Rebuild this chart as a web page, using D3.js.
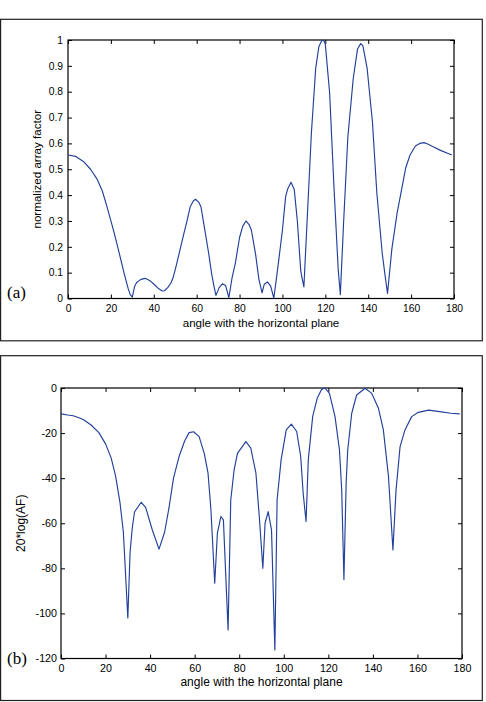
<!DOCTYPE html>
<html><head><meta charset="utf-8">
<script src="https://cdn.jsdelivr.net/npm/d3@7"></script>
<style>body{margin:0;background:#fff} svg{display:block}</style>
</head><body><svg id="c" width="486" height="702"></svg>
<script>
// ---- data ----
const anglesA = [0,3.5,7.5,10.5,13.5,16,18,20,21.5,24,26,28,29,30,31,32,34,36,38,40,42,44,45,46.5,48,49,50.5,52,53,54,55.5,57,58.5,59.5,61,62,63.5,65.5,67,68,69,70.5,72,73.5,75,76.5,78,80,81.5,83,84.5,85.5,87.5,89,90.5,91.5,93,94.5,96,98,100,101.5,102.5,104,105.5,107,108.5,109,110,111.5,113.5,115.5,117,118.5,119.5,120,122,124,126,127,128.5,130.5,133,135,136.5,137.5,139.5,142,144,146.5,148,149,151,153.5,155,157.5,159.5,162,164,166,168,170,174,177,179];
const afValues = [0.555,0.550,0.528,0.500,0.463,0.416,0.360,0.300,0.255,0.172,0.103,0.040,0.015,0.005,0.045,0.062,0.074,0.078,0.070,0.056,0.040,0.029,0.030,0.042,0.060,0.080,0.128,0.180,0.215,0.250,0.300,0.355,0.378,0.384,0.372,0.355,0.280,0.180,0.095,0.050,0.012,0.042,0.057,0.050,0.003,0.080,0.135,0.236,0.280,0.300,0.285,0.265,0.170,0.075,0.022,0.055,0.064,0.048,0.001,0.130,0.265,0.395,0.425,0.450,0.422,0.295,0.110,0.085,0.045,0.300,0.640,0.890,0.975,1.000,0.995,0.983,0.796,0.435,0.113,0.015,0.290,0.625,0.850,0.965,0.986,0.978,0.890,0.680,0.410,0.177,0.080,0.020,0.190,0.332,0.397,0.506,0.555,0.590,0.600,0.603,0.597,0.588,0.572,0.562,0.555];

const anglesB = [0,3,5.5,8,10,13.5,17,20,22.5,24.5,26.5,28,30,31,32,33,36,38,41,44,46.5,48.5,50.5,53,55.5,57.5,59.5,62,64.3,66,67.3,69,70.2,71.8,72.9,75,76.2,77.7,79.2,83,85.2,87.5,89,90.6,91.6,93,94.5,96,97,98.8,101.1,103.4,105.8,107.6,108.7,110,111,113,115,117,118.5,120.5,123,125,126,127,128,128.7,130.5,132.7,136.5,139.5,142.5,144.7,147,149,150.4,152.2,154.4,157.4,160.4,165,170,175,179];
const dbValues = [-11.5,-12.0,-12.3,-13.2,-14.0,-16.4,-19.8,-24.8,-31,-39,-51,-64,-102,-73,-62,-55,-50.7,-53,-63,-71.5,-64,-53,-40,-30.4,-23.5,-19.8,-19.4,-21.6,-29,-37.8,-54,-86.6,-64.4,-57,-58.5,-107.3,-49.7,-36.4,-29,-23.8,-26.7,-37.8,-57,-80,-60,-54.8,-63,-116.2,-49.7,-31.9,-18.6,-16,-19.3,-30.4,-46.7,-59.2,-31.9,-12.5,-4.6,-0.6,0,-2.4,-12.7,-27.5,-45,-85,-42,-27.5,-11.2,-3.1,-0.1,-2.4,-9,-18.6,-39.3,-71.8,-45.2,-26,-18.6,-12.7,-10.8,-9.8,-10.5,-11.2,-11.5];

const xTicks = [0,20,40,60,80,100,120,140,160,180];
const yTicksA = [0,0.1,0.2,0.3,0.4,0.5,0.6,0.7,0.8,0.9,1];
const yTicksB = [-120,-100,-80,-60,-40,-20,0];
const xTitle = "angle with the horizontal plane";
const yTitleA = "normalized array factor";
const yTitleB = "20*log(AF)";
const panelTags = ["(a)","(b)"];

const svg = d3.select("#c");
const SANS = "'Liberation Sans', Arial, Helvetica, sans-serif";
const SERIF = "'Liberation Serif', 'Times New Roman', serif";
const LINE = "#22409a";

function panel(o) {
  svg.append("rect").attr("x", o.frame[0]).attr("y", o.frame[1])
    .attr("width", o.frame[2]).attr("height", o.frame[3])
    .attr("fill", "none").attr("stroke", "#222").attr("stroke-width", 1.2);

  const x = d3.scaleLinear().domain([0,180]).range([o.l, o.r]);
  const y = d3.scaleLinear().domain(o.yDom).range([o.b, o.t]);

  const styleAxis = g => {
    g.select(".domain").remove();
    g.selectAll(".tick line").attr("stroke", "#000");
    g.selectAll("text").attr("font-family", SANS).attr("font-size", o.tfs).attr("fill", "#000");
  };

  svg.append("g").attr("transform", `translate(0,${o.b})`)
    .call(d3.axisBottom(x).tickValues(xTicks).tickSizeInner(-4).tickSizeOuter(0).tickPadding(o.xPad).tickFormat(d => String(d)))
    .call(styleAxis);
  svg.append("g").attr("transform", `translate(0,${o.t})`)
    .call(d3.axisTop(x).tickValues(xTicks).tickSizeInner(-4).tickSizeOuter(0).tickFormat(""))
    .call(styleAxis);
  svg.append("g").attr("transform", `translate(${o.l},0)`)
    .call(d3.axisLeft(y).tickValues(o.yTicks).tickSizeInner(-4).tickSizeOuter(0).tickPadding(o.yPad).tickFormat(o.fmt))
    .call(styleAxis);
  svg.append("g").attr("transform", `translate(${o.r},0)`)
    .call(d3.axisRight(y).tickValues(o.yTicks).tickSizeInner(-4).tickSizeOuter(0).tickFormat(""))
    .call(styleAxis);

  svg.append("rect").attr("x", o.l).attr("y", o.t).attr("width", o.r - o.l).attr("height", o.b - o.t)
    .attr("fill", "none").attr("stroke", "#000").attr("stroke-width", 1.2);

  const line = d3.line().x(d => x(d[0])).y(d => y(d[1]));
  svg.append("path").datum(d3.zip(o.xs, o.ys)).attr("d", line)
    .attr("fill", "none").attr("stroke", LINE).attr("stroke-width", 1.15).attr("stroke-linejoin", "round");

  svg.append("text").attr("x", (o.l + o.r) / 2).attr("y", o.xTitleY).attr("text-anchor", "middle")
    .attr("font-family", SANS).attr("font-size", o.fs).text(xTitle);
  svg.append("text").attr("transform", `translate(${o.yTitleX},${(o.t + o.b) / 2}) rotate(-90)`)
    .attr("text-anchor", "middle").attr("font-family", SANS).attr("font-size", o.fs).text(o.yTitle);
  svg.append("text").attr("x", 7).attr("y", o.tagY).attr("font-family", SERIF).attr("font-size", 17).text(o.tag);
}

panel({
  frame: [0.6, 19.3, 481.7, 321.5],
  l: 68, r: 454, t: 40, b: 298.5,
  yDom: [0, 1], yTicks: yTicksA, fmt: d => String(+d.toFixed(1)),
  xs: anglesA, ys: afValues, fs: 11.6, tfs: 10.3, xPad: 6, yPad: 5,
  xTitleY: 326.5, yTitleX: 41, yTitle: yTitleA, tag: panelTags[0], tagY: 298
});
panel({
  frame: [0.6, 355.7, 481.7, 344.8],
  l: 61, r: 462, t: 388, b: 658.5,
  yDom: [-120, 0], yTicks: yTicksB, fmt: d => String(d),
  xs: anglesB, ys: dbValues, fs: 12, tfs: 10.7, xPad: 6, yPad: 4,
  xTitleY: 686, yTitleX: 24.5, yTitle: yTitleB, tag: panelTags[1], tagY: 663.5
});
</script></body></html>
